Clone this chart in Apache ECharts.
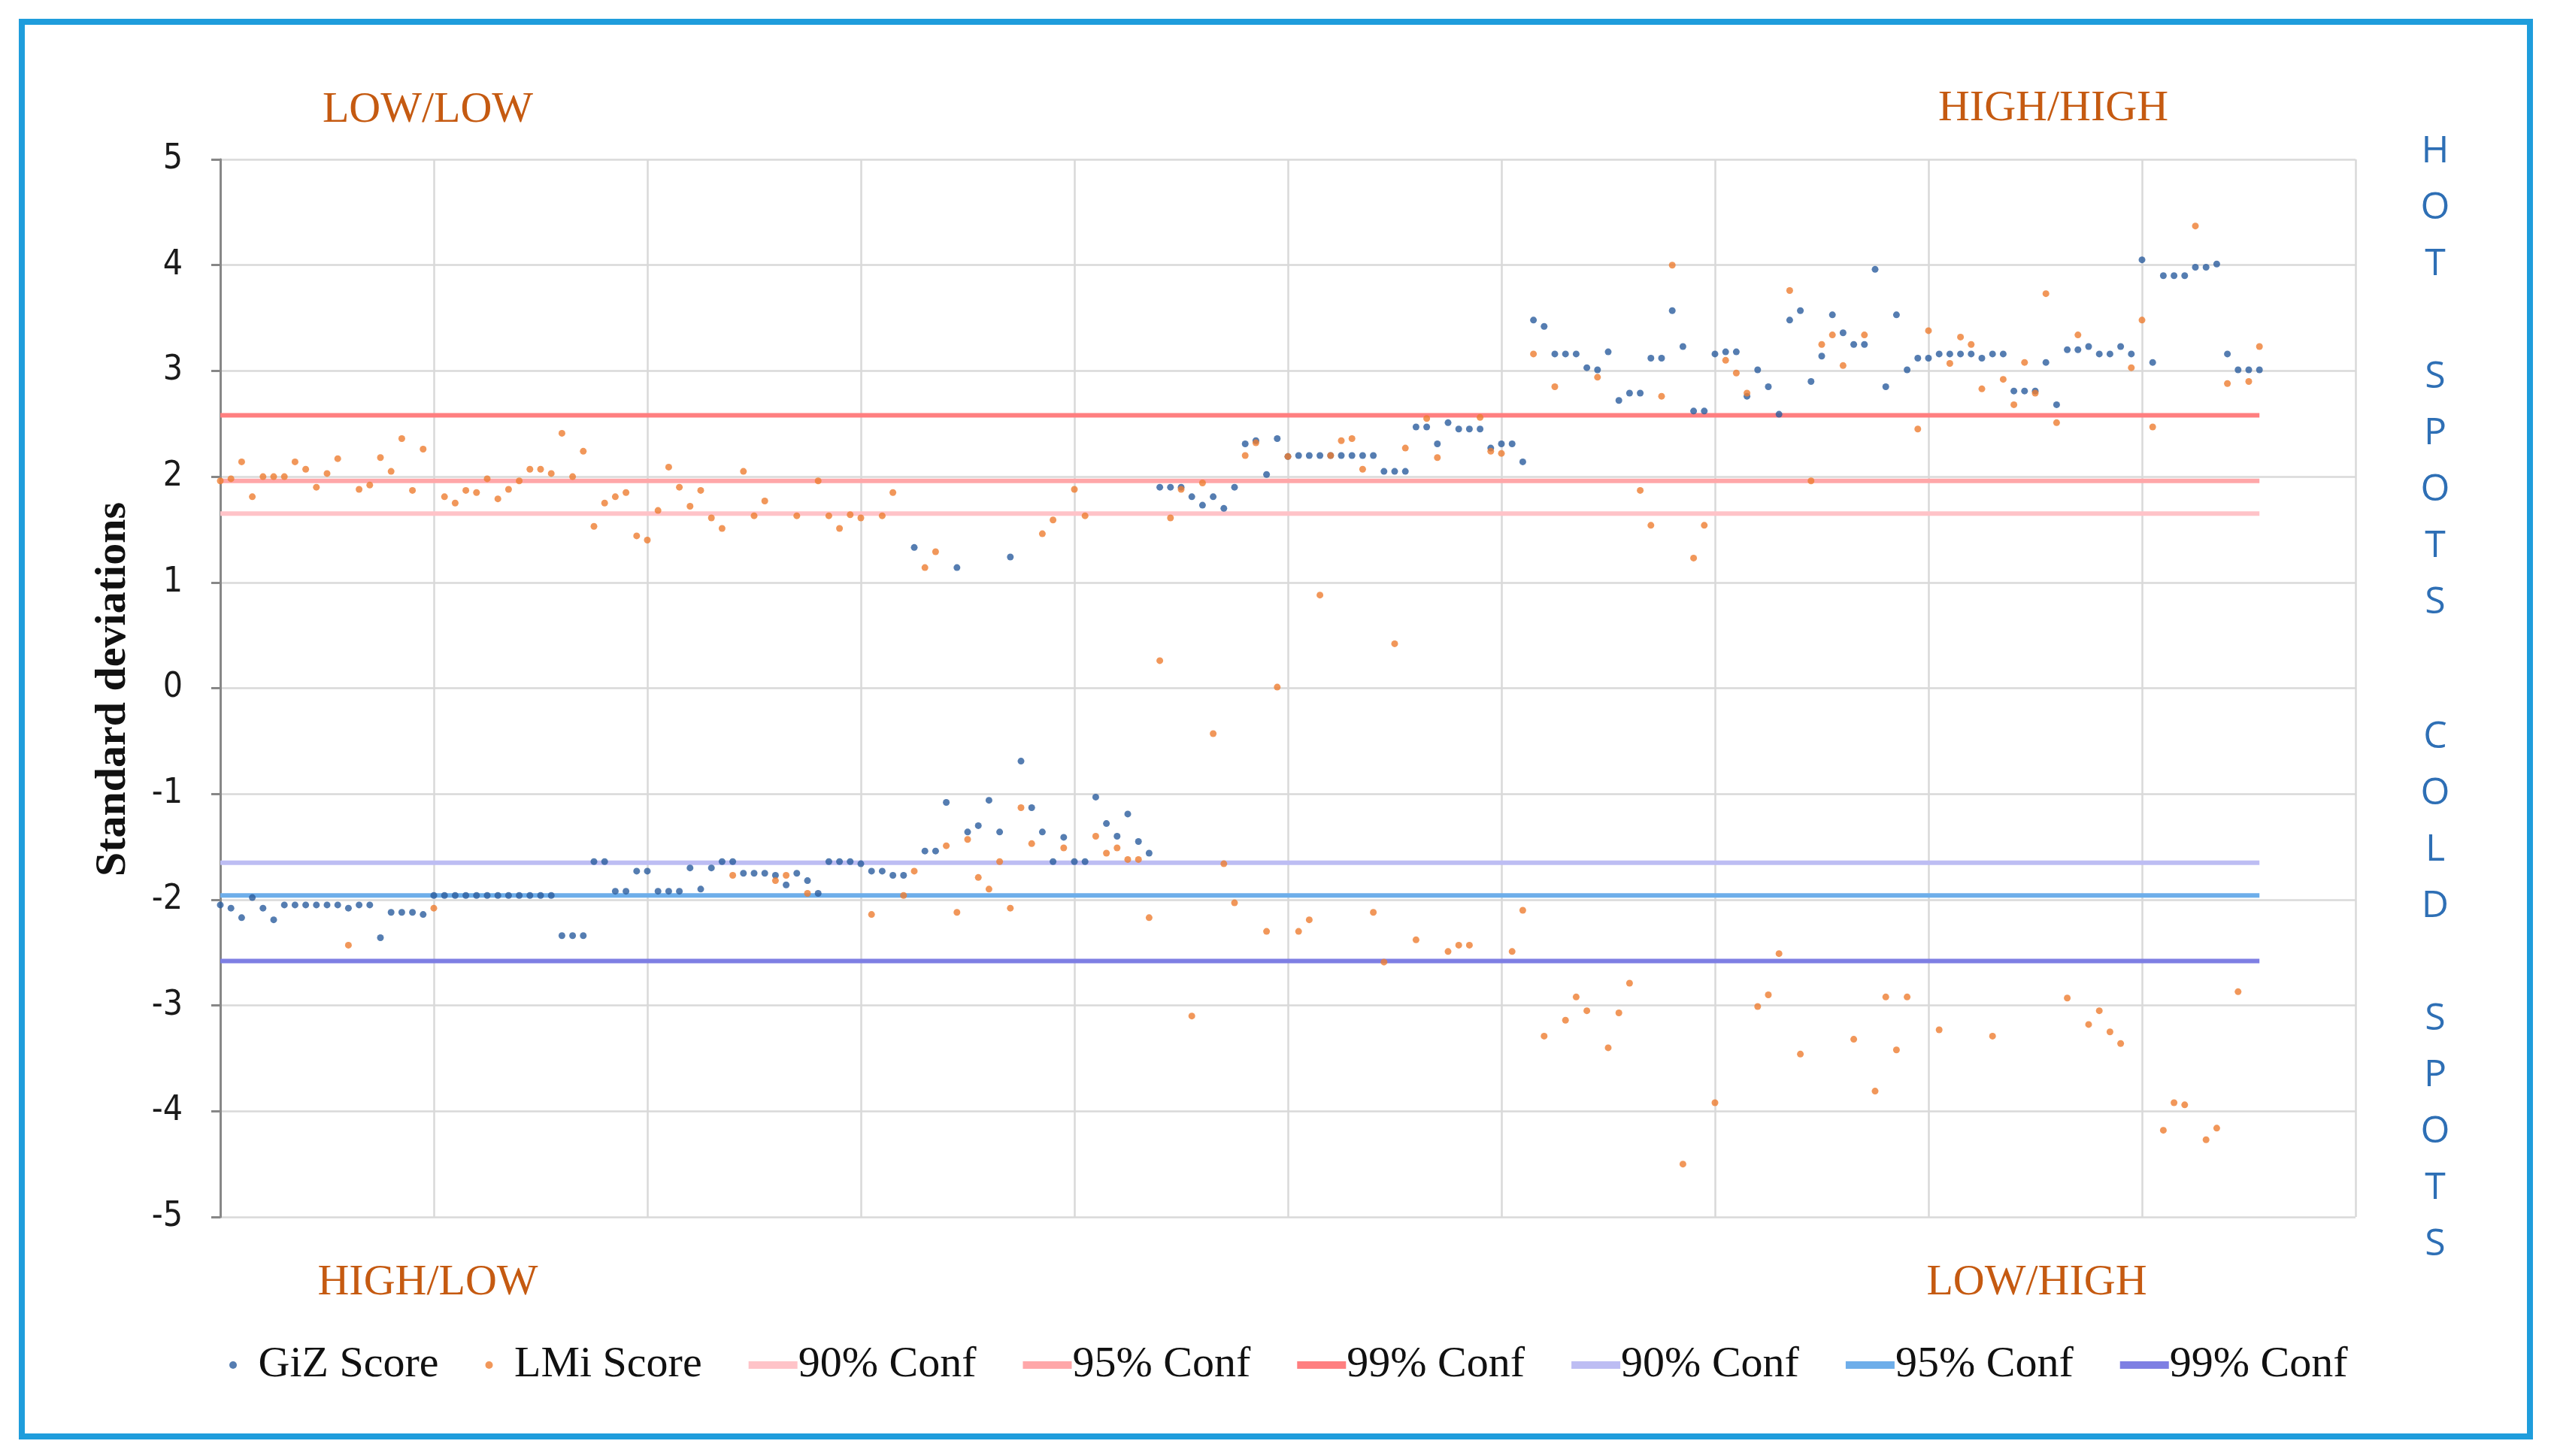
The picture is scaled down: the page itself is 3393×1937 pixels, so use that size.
<!DOCTYPE html>
<html>
<head>
<meta charset="utf-8">
<title>GiZ / LMi scores</title>
<script src="https://cdn.jsdelivr.net/npm/echarts@6/dist/echarts.min.js"></script>
<style>
  html, body { margin: 0; padding: 0; background: #fff; }
  #main { width: 3393px; height: 1937px; }
</style>
</head>
<body>
<div id="main"></div>
<script>
// GiZ score per observation (blue dots)
var gizScore = [
  -2.05, -2.08, -2.17, -1.98, -2.08, -2.19, -2.05, -2.05, -2.05, -2.05,
  -2.05, -2.05, -2.08, -2.05, -2.05, -2.36, -2.12, -2.12, -2.12, -2.14,
  -1.96, -1.96, -1.96, -1.96, -1.96, -1.96, -1.96, -1.96, -1.96, -1.96,
  -1.96, -1.96, -2.34, -2.34, -2.34, -1.64, -1.64, -1.92, -1.92, -1.73,
  -1.73, -1.92, -1.92, -1.92, -1.70, -1.90, -1.70, -1.64, -1.64, -1.75,
  -1.75, -1.75, -1.77, -1.86, -1.75, -1.82, -1.94, -1.64, -1.64, -1.64,
  -1.66, -1.73, -1.73, -1.77, -1.77, 1.33, -1.54, -1.54, -1.08, 1.14,
  -1.36, -1.30, -1.06, -1.36, 1.24, -0.69, -1.13, -1.36, -1.64, -1.41,
  -1.64, -1.64, -1.03, -1.28, -1.40, -1.19, -1.45, -1.56, 1.90, 1.90,
  1.90, 1.81, 1.73, 1.81, 1.70, 1.90, 2.31, 2.34, 2.02, 2.36,
  2.19, 2.20, 2.20, 2.20, 2.20, 2.20, 2.20, 2.20, 2.20, 2.05,
  2.05, 2.05, 2.47, 2.47, 2.31, 2.51, 2.45, 2.45, 2.45, 2.27,
  2.31, 2.31, 2.14, 3.48, 3.42, 3.16, 3.16, 3.16, 3.03, 3.01,
  3.18, 2.72, 2.79, 2.79, 3.12, 3.12, 3.57, 3.23, 2.62, 2.62,
  3.16, 3.18, 3.18, 2.76, 3.01, 2.85, 2.59, 3.48, 3.57, 2.90,
  3.14, 3.53, 3.36, 3.25, 3.25, 3.96, 2.85, 3.53, 3.01, 3.12,
  3.12, 3.16, 3.16, 3.16, 3.16, 3.12, 3.16, 3.16, 2.81, 2.81,
  2.81, 3.08, 2.68, 3.20, 3.20, 3.23, 3.16, 3.16, 3.23, 3.16,
  4.05, 3.08, 3.90, 3.90, 3.90, 3.98, 3.98, 4.01, 3.16, 3.01,
  3.01, 3.01
];

// LMi score per observation (orange dots)
var lmiScore = [
  1.96, 1.98, 2.14, 1.81, 2.00, 2.00, 2.00, 2.14, 2.07, 1.90,
  2.03, 2.17, -2.43, 1.88, 1.92, 2.18, 2.05, 2.36, 1.87, 2.26,
  -2.08, 1.81, 1.75, 1.87, 1.85, 1.98, 1.79, 1.88, 1.96, 2.07,
  2.07, 2.03, 2.41, 2.00, 2.24, 1.53, 1.75, 1.81, 1.85, 1.44,
  1.40, 1.68, 2.09, 1.90, 1.72, 1.87, 1.61, 1.51, -1.77, 2.05,
  1.63, 1.77, -1.82, -1.77, 1.63, -1.94, 1.96, 1.63, 1.51, 1.64,
  1.61, -2.14, 1.63, 1.85, -1.96, -1.73, 1.14, 1.29, -1.49, -2.12,
  -1.43, -1.79, -1.90, -1.64, -2.08, -1.13, -1.47, 1.46, 1.59, -1.51,
  1.88, 1.63, -1.40, -1.56, -1.51, -1.62, -1.62, -2.17, 0.26, 1.61,
  1.88, -3.10, 1.94, -0.43, -1.66, -2.03, 2.20, 2.32, -2.30, 0.01,
  2.19, -2.30, -2.19, 0.88, 2.20, 2.34, 2.36, 2.07, -2.12, -2.59,
  0.42, 2.27, -2.38, 2.55, 2.18, -2.49, -2.43, -2.43, 2.56, 2.24,
  2.22, -2.49, -2.10, 3.16, -3.29, 2.85, -3.14, -2.92, -3.05, 2.94,
  -3.40, -3.07, -2.79, 1.87, 1.54, 2.76, 4.00, -4.50, 1.23, 1.54,
  -3.92, 3.10, 2.98, 2.79, -3.01, -2.90, -2.51, 3.76, -3.46, 1.96,
  3.25, 3.34, 3.05, -3.32, 3.34, -3.81, -2.92, -3.42, -2.92, 2.45,
  3.38, -3.23, 3.07, 3.32, 3.25, 2.83, -3.29, 2.92, 2.68, 3.08,
  2.79, 3.73, 2.51, -2.93, 3.34, -3.18, -3.05, -3.25, -3.36, 3.03,
  3.48, 2.47, -4.18, -3.92, -3.94, 4.37, -4.27, -4.16, 2.88, -2.87,
  2.90, 3.23
];

// confidence thresholds (hot side, then cold side)
var confNames  = ['90% Conf (h)', '95% Conf (h)', '99% Conf (h)', '90% Conf (c)', '95% Conf (c)', '99% Conf (c)'];
var confValues = [1.65, 1.96, 2.58, -1.65, -1.96, -2.58];
var confColors = ['#ffc3c8', '#ffa7a9', '#ff7f80', '#bdbdf3', '#6eaeea', '#7e7fe3'];

var yTicks = [-5, -4, -3, -2, -1, 0, 1, 2, 3, 4, 5];

var myChart = echarts.init(document.getElementById('main'));

function pairs(arr) {
  return arr.map(function (v, i) { return [i, v]; });
}

var lastIdx = gizScore.length - 1;
var series = [];

confValues.forEach(function (v, k) {
  series.push({
    name: confNames[k],
    type: 'line',
    symbol: 'none',
    silent: true,
    z: 1,
    color: confColors[k],
    lineStyle: { color: confColors[k], width: 6 },
    data: [[0, v], [lastIdx, v]]
  });
});

series.push({
  name: 'GiZ Score',
  type: 'scatter',
  symbolSize: 9,
  z: 3,
  color: '#2a5c9e',
  data: pairs(gizScore)
});
series.push({
  name: 'LMi Score',
  type: 'scatter',
  symbolSize: 9,
  z: 4,
  color: '#ed7d31',
  data: pairs(lmiScore)
});

var legendData = [
  { name: 'GiZ Score', icon: 'circle' },
  { name: 'LMi Score', icon: 'circle' }
].concat(confNames.map(function (n) { return { name: n, icon: 'rect' }; }));

var serif = '"Liberation Serif", "DejaVu Serif", serif';
var narrow = '"Liberation Sans Narrow", "DejaVu Sans Condensed", "Roboto", sans-serif';
var labelColor = '#c55a11';
var spotColor = '#2e6fb5';

option = {
  animation: false,
  backgroundColor: '#fff',
  grid: { left: 293, right: 260, top: 212, bottom: 318 },
  xAxis: {
    type: 'value',
    min: 0,
    max: 200,
    interval: 20,
    axisLine: { show: false },
    axisTick: { show: false },
    axisLabel: { show: false },
    splitLine: { show: true, lineStyle: { color: '#d9d9d9', width: 2.5 } }
  },
  yAxis: {
    type: 'value',
    min: yTicks[0],
    max: yTicks[yTicks.length - 1],
    interval: 1,
    axisLine: { show: true, lineStyle: { color: '#878787', width: 3 } },
    axisTick: { show: true, length: 12, lineStyle: { color: '#878787', width: 3 } },
    axisLabel: { margin: 50, fontSize: 46, color: '#1a1a1a', fontFamily: narrow },
    splitLine: { show: true, lineStyle: { color: '#d9d9d9', width: 2.5 } }
  },
  legend: {
    data: legendData,
    left: 300,
    top: 1782,
    itemWidth: 65,
    itemHeight: 10,
    itemGap: 62,
    formatter: function (name) { return name.replace(/ \(.\)$/, ''); },
    textStyle: { fontSize: 58, color: '#111', fontFamily: serif, padding: [0, 0, 0, -4] }
  },
  graphic: [
    {
      type: 'rect',
      silent: true,
      shape: { x: 29, y: 29, width: 3336, height: 1882 },
      style: { fill: null, stroke: '#1f9ddc', lineWidth: 8 }
    },
    {
      type: 'text', x: 151, y: 917, rotation: Math.PI / 2,
      style: { text: 'Standard deviations', fontSize: 58, fontWeight: 'bold', fontFamily: serif,
               fill: '#111', textAlign: 'center', textVerticalAlign: 'middle' }
    },
    {
      type: 'text', x: 569, y: 147,
      style: { text: 'LOW/LOW', fontSize: 58, fontFamily: serif, fill: labelColor,
               textAlign: 'center', textVerticalAlign: 'middle' }
    },
    {
      type: 'text', x: 2731, y: 145,
      style: { text: 'HIGH/HIGH', fontSize: 58, fontFamily: serif, fill: labelColor,
               textAlign: 'center', textVerticalAlign: 'middle' }
    },
    {
      type: 'text', x: 569, y: 1707,
      style: { text: 'HIGH/LOW', fontSize: 58, fontFamily: serif, fill: labelColor,
               textAlign: 'center', textVerticalAlign: 'middle' }
    },
    {
      type: 'text', x: 2709, y: 1707,
      style: { text: 'LOW/HIGH', fontSize: 58, fontFamily: serif, fill: labelColor,
               textAlign: 'center', textVerticalAlign: 'middle' }
    },
    {
      type: 'text', x: 3239, y: 164,
      style: { text: 'H\nO\nT\n\nS\nP\nO\nT\nS', fontSize: 50, lineHeight: 75,
               fontFamily: '"Open Sans", sans-serif', fill: spotColor,
               textAlign: 'center', textVerticalAlign: 'top' }
    },
    {
      type: 'text', x: 3239, y: 943,
      style: { text: 'C\nO\nL\nD\n\nS\nP\nO\nT\nS', fontSize: 50, lineHeight: 75,
               fontFamily: '"Open Sans", sans-serif', fill: spotColor,
               textAlign: 'center', textVerticalAlign: 'top' }
    }
  ],
  series: series
};

myChart.setOption(option);
</script>
</body>
</html>
